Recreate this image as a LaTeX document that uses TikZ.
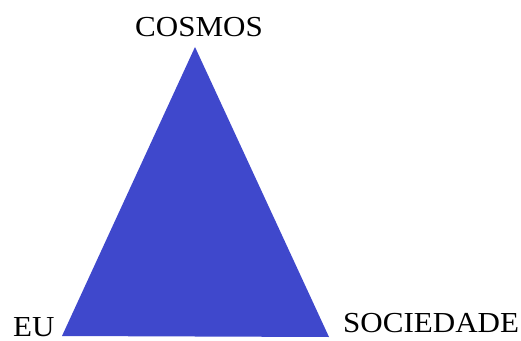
\documentclass[tikz,border=0pt]{standalone}
\usepackage{fontspec}
\setmainfont[FakeStretch=1.07]{Liberation Serif}
\definecolor{paintblue}{HTML}{3F48CC}
\tikzset{
  every node/.style={font=\fontsize{29}{32}\selectfont, text=black, inner sep=0pt},
  lbl/.style={anchor=base},
  tri/.style={fill=paintblue, draw=none},
}
\begin{document}
\begin{tikzpicture}[x=1pt, y=1pt]
  \useasboundingbox (0,0) rectangle (521,340);

  \coordinate (top) at (195,293);
  \coordinate (eu) at (62,4);
  \coordinate (soc) at (329,3);

  \fill[tri] (top) -- (eu) -- (soc) -- cycle;

  \node[lbl] (cosmosL) at (199,303) {COSMOS};
  \node[lbl, anchor=base west] (euL) at (13,4) {EU};
  \node[lbl, anchor=base west] (socL) at (343,8) {SOCIEDADE};
\end{tikzpicture}
\end{document}
